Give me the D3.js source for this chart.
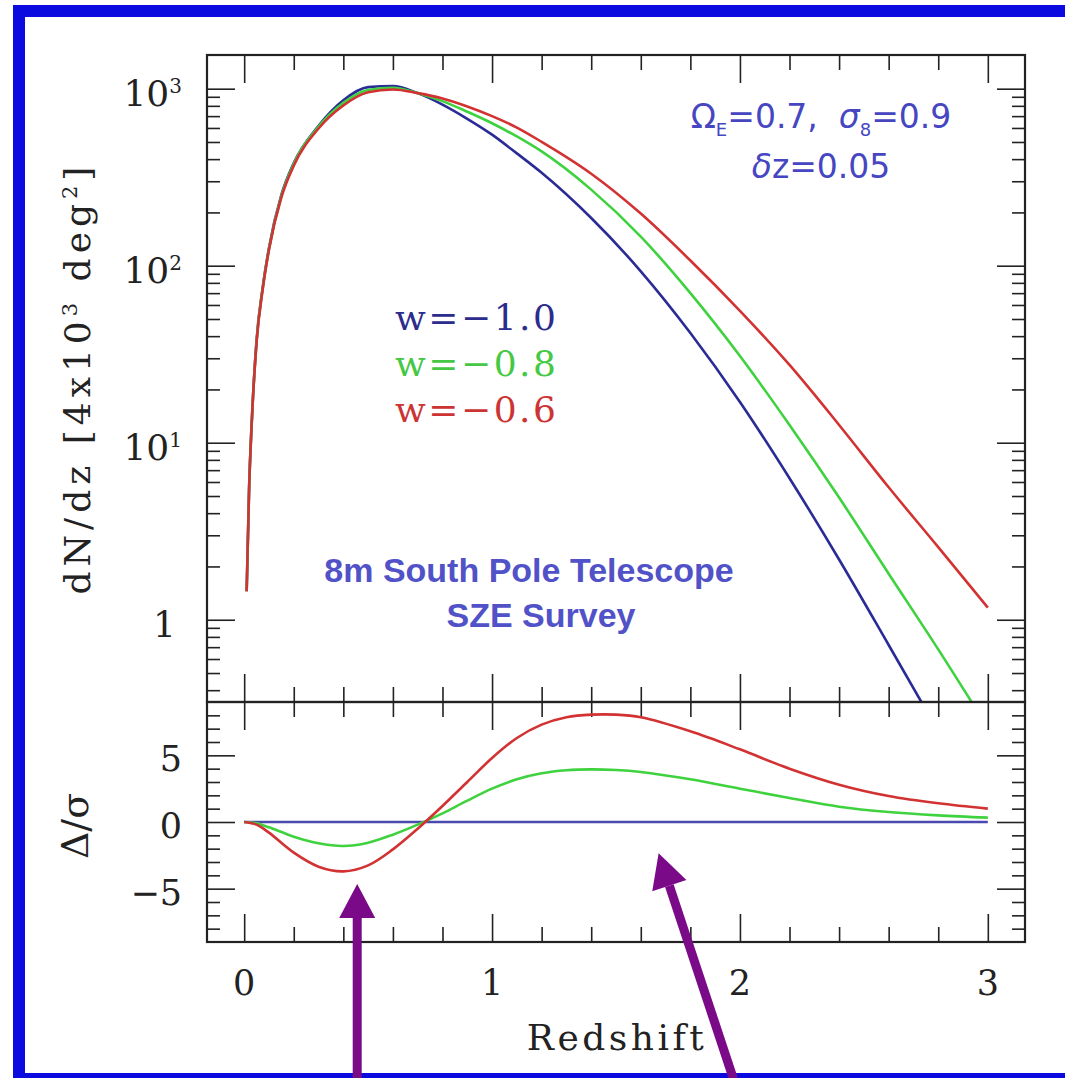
<!DOCTYPE html>
<html>
<head>
<meta charset="utf-8">
<title>dN/dz vs Redshift</title>
<script src="https://d3js.org/d3.v7.min.js"></script>
<style>
  body { margin: 0; background: #fff; }
  text { font-family: "DejaVu Serif", serif; fill: #222; white-space: pre; }
  .tick line { stroke: #222; stroke-width: 1.6; }
  .frame { fill: none; stroke: #222; stroke-width: 2.2; }
  .curve { fill: none; stroke-width: 2.6; }
</style>
</head>
<body>
<svg width="1065" height="1078"></svg>
<script>
// ---- data ----
var seriesNames = ['w=\u22121.0', 'w=\u22120.8', 'w=\u22120.6'];
var seriesColors = ['#2b2b96', '#3fd23f', '#d23232'];
var legendColors = ['#2c2c8c', '#45c845', '#cc3434'];

// top panel: dN/dz per redshift
var redshift = [0.01, 0.02, 0.03, 0.05, 0.075, 0.1, 0.15, 0.2, 0.3, 0.4, 0.5, 0.6, 0.7,
                0.8, 0.9, 1.0, 1.1, 1.2, 1.4, 1.6, 1.8, 2.0, 2.2, 2.4, 2.6, 2.8, 3.0];
var dndzW10 = [1.45, 5.6, 12.6, 38, 76, 126, 251, 380, 617, 860, 1020, 1035, 944,
               813, 676, 550, 431, 335, 186, 93, 41.7, 17.0, 6.3, 2.19, 0.72, 0.234, 0.076];
var dndzW08 = [1.45, 5.6, 12.6, 37.6, 75, 124, 248, 376, 610, 832, 984, 1012, 944,
               851, 741, 638, 537, 442, 269, 146, 70, 30.9, 12.6, 4.9, 1.82, 0.68, 0.245];
var dndzW06 = [1.45, 5.6, 12.6, 37, 74, 123, 243, 367, 596, 804, 955, 989, 944,
               881, 794, 700, 603, 501, 331, 197, 107, 55.6, 27.5, 12.6, 5.6, 2.57, 1.17];

// bottom panel: difference in units of sigma
var zDelta = [0, 0.05, 0.1, 0.2, 0.3, 0.4, 0.5, 0.6, 0.7, 0.8, 0.9, 1.0, 1.1, 1.2, 1.3,
              1.4, 1.5, 1.6, 1.8, 2.0, 2.2, 2.4, 2.6, 2.8, 3.0];
var deltaW10 = [0, 0, 0, 0, 0, 0, 0, 0, 0, 0, 0, 0, 0, 0, 0, 0, 0, 0, 0, 0, 0, 0, 0, 0, 0];
var deltaW08 = [0, -0.1, -0.4, -1.1, -1.6, -1.8, -1.55, -0.95, -0.2, 0.65, 1.6, 2.5, 3.2,
                3.65, 3.88, 3.95, 3.9, 3.75, 3.2, 2.5, 1.8, 1.15, 0.75, 0.5, 0.33];
var deltaW06 = [0, -0.2, -0.8, -2.3, -3.35, -3.7, -3.25, -2.05, -0.5, 1.2, 3.0, 4.8, 6.3,
                7.3, 7.85, 8.05, 8.05, 7.85, 6.8, 5.45, 4.0, 2.8, 1.95, 1.4, 1.0];

// tick values
var xMajor = [0, 1, 2, 3];
var xLabels = ['0', '1', '2', '3'];
var yTopMajor = [1000, 100, 10, 1];
var yTopExp = ['3', '2', '1', ''];
var yBotMajor = [5, 0, -5];
var yBotLabels = ['5', '0', '\u22125'];

// arrows below the chart (tip z, tip delta, tail z, tail delta)
var arrowTipZ = [0.456, 1.672];
var arrowTipD = [-4.65, -2.35];
var arrowTailZ = [0.456, 1.976];
var arrowTailD = [-19.4, -19.4];

// ---- layout ----
var svg = d3.select('svg');
var pLeft = 207, pRight = 1025, pTop = 55, pMid = 702, pBottom = 942;

var x = d3.scaleLinear().domain([-0.15, 3.15]).range([pLeft, pRight]);
var yTop = d3.scaleLog().domain([0.343, 1550]).range([pMid, pTop]);
var yBot = d3.scaleLinear().domain([-9, 9]).range([pBottom, pMid]);

// outer blue border
svg.append('rect')
  .attr('x', 19).attr('y', 11)
  .attr('width', 1053).attr('height', 1068)
  .attr('fill', 'none')
  .attr('stroke', '#0b0be0')
  .attr('stroke-width', 12);

var defs = svg.append('defs');
defs.append('clipPath').attr('id', 'clipTop')
  .append('rect').attr('x', pLeft).attr('y', pTop)
  .attr('width', pRight - pLeft).attr('height', pMid - pTop);
defs.append('clipPath').attr('id', 'clipBot')
  .append('rect').attr('x', pLeft).attr('y', pMid)
  .attr('width', pRight - pLeft).attr('height', pBottom - pMid);

// ---- ticks ----
var xMinor = d3.range(0, 3.01, 0.2).filter(function(v) {
  return Math.abs(v - Math.round(v)) > 1e-6;
});
var yTopMinor = yTop.ticks().filter(function(v) {
  var l = Math.log10(v);
  return Math.abs(l - Math.round(l)) > 1e-6;
});
var yBotMinor = d3.range(-8, 9).filter(function(v) { return v % 5 !== 0; });

function tickAxis(axis, vals, size, tx, ty) {
  var g = svg.append('g')
    .attr('transform', 'translate(' + tx + ',' + ty + ')')
    .call(axis.tickValues(vals).tickSize(-size).tickFormat(''));
  g.select('.domain').remove();
}

[28, 15].forEach(function(size, i) {
  var vals = i === 0 ? xMajor : xMinor;
  tickAxis(d3.axisTop(x), vals, size, 0, pTop);
  tickAxis(d3.axisBottom(x), vals, size, 0, pMid);
  tickAxis(d3.axisTop(x), vals, size, 0, pMid);
  tickAxis(d3.axisBottom(x), vals, size, 0, pBottom);
});
tickAxis(d3.axisLeft(yTop), yTopMajor, 28, pLeft, 0);
tickAxis(d3.axisRight(yTop), yTopMajor, 28, pRight, 0);
tickAxis(d3.axisLeft(yTop), yTopMinor, 13, pLeft, 0);
tickAxis(d3.axisRight(yTop), yTopMinor, 13, pRight, 0);
tickAxis(d3.axisLeft(yBot), yBotMajor, 28, pLeft, 0);
tickAxis(d3.axisRight(yBot), yBotMajor, 28, pRight, 0);
tickAxis(d3.axisLeft(yBot), yBotMinor, 13, pLeft, 0);
tickAxis(d3.axisRight(yBot), yBotMinor, 13, pRight, 0);

// ---- curves ----
var topSeries = [dndzW10, dndzW08, dndzW06];
var botSeries = [deltaW10, deltaW08, deltaW06];

var lineTop = d3.line()
  .x(function(d) { return x(d[0]); })
  .y(function(d) { return yTop(d[1]); })
  .curve(d3.curveMonotoneX);
var lineBot = d3.line()
  .x(function(d) { return x(d[0]); })
  .y(function(d) { return yBot(d[1]); })
  .curve(d3.curveCatmullRom.alpha(0.5));

svg.append('g').attr('clip-path', 'url(#clipTop)')
  .selectAll('path').data(topSeries).enter().append('path')
  .attr('class', 'curve')
  .attr('stroke', function(d, i) { return seriesColors[i]; })
  .attr('d', function(s) { return lineTop(d3.zip(redshift, s)); });

svg.append('g').attr('clip-path', 'url(#clipBot)')
  .selectAll('path').data(botSeries).enter().append('path')
  .attr('class', 'curve')
  .attr('stroke', function(d, i) { return i === 0 ? '#4a4aae' : seriesColors[i]; })
  .attr('stroke-width', function(d, i) { return i === 0 ? 3 : 2.6; })
  .attr('d', function(s) { return lineBot(d3.zip(zDelta, s)); });

// ---- frames ----
svg.append('rect').attr('class', 'frame')
  .attr('x', pLeft).attr('y', pTop).attr('width', pRight - pLeft).attr('height', pMid - pTop);
svg.append('rect').attr('class', 'frame')
  .attr('x', pLeft).attr('y', pMid).attr('width', pRight - pLeft).attr('height', pBottom - pMid);

// ---- tick labels ----
svg.selectAll('.xlab').data(xMajor).enter().append('text')
  .attr('class', 'xlab')
  .attr('x', function(d) { return x(d); })
  .attr('y', 995)
  .attr('text-anchor', 'middle')
  .style('font-size', '35px')
  .text(function(d, i) { return xLabels[i]; });

var ytl = svg.selectAll('.ytlab').data(yTopMajor).enter().append('text')
  .attr('class', 'ytlab')
  .attr('x', function(d, i) { return yTopExp[i] ? 182 : 176; })
  .attr('y', function(d) { return yTop(d) + 17; })
  .attr('text-anchor', 'end')
  .style('font-size', '36px');
ytl.append('tspan').text(function(d, i) { return yTopExp[i] ? '10' : '1'; });
ytl.append('tspan')
  .attr('dy', -13)
  .style('font-size', '20px')
  .text(function(d, i) { return yTopExp[i]; });

svg.selectAll('.yblab').data(yBotMajor).enter().append('text')
  .attr('class', 'yblab')
  .attr('x', 182)
  .attr('y', function(d) { return yBot(d) + 16; })
  .attr('text-anchor', 'end')
  .style('font-size', '35px')
  .text(function(d, i) { return yBotLabels[i]; });

// ---- axis titles ----
svg.append('text')
  .attr('x', 617).attr('y', 1050)
  .attr('text-anchor', 'middle')
  .style('font-size', '36px')
  .style('letter-spacing', '3.5px')
  .text('Redshift');

var yt = svg.append('text')
  .attr('transform', 'translate(90,378) rotate(-90)')
  .attr('text-anchor', 'middle')
  .style('font-size', '36px')
  .style('letter-spacing', '5px');
yt.append('tspan').text('dN/dz [4x10');
yt.append('tspan').attr('dy', -13).style('font-size', '21px').text('3');
yt.append('tspan').attr('dy', 13).text(' deg');
yt.append('tspan').attr('dy', -13).style('font-size', '21px').text('2');
yt.append('tspan').attr('dy', 13).text(']');

svg.append('text')
  .attr('transform', 'translate(88,826) rotate(-90)')
  .attr('text-anchor', 'middle')
  .style('font-size', '38px')
  .text('\u0394/\u03c3');

// ---- legend ----
svg.selectAll('.leg').data(seriesNames).enter().append('text')
  .attr('class', 'leg')
  .attr('x', 395)
  .attr('y', function(d, i) { return 330 + i * 46; })
  .style('font-size', '36px')
  .style('letter-spacing', '2.5px')
  .style('fill', function(d, i) { return legendColors[i]; })
  .text(function(d) { return d; });

// ---- annotations ----
var ann = svg.append('text')
  .attr('x', 821).attr('y', 128)
  .attr('text-anchor', 'middle')
  .style('font-family', '"DejaVu Sans", sans-serif')
  .style('font-size', '33px')
  .style('fill', '#4646c2');
ann.append('tspan').text('\u03a9');
ann.append('tspan').attr('dy', 8).style('font-size', '18px').text('E');
ann.append('tspan').attr('dy', -8).text('=0.7,  ');
ann.append('tspan').style('font-style', 'italic').text('\u03c3');
ann.append('tspan').attr('dy', 8).style('font-size', '18px').text('8');
ann.append('tspan').attr('dy', -8).text('=0.9');

var ann2 = svg.append('text')
  .attr('x', 821).attr('y', 178)
  .attr('text-anchor', 'middle')
  .style('font-family', '"DejaVu Sans", sans-serif')
  .style('font-size', '33px')
  .style('fill', '#4646c2');
ann2.append('tspan').style('font-style', 'italic').text('\u03b4');
ann2.append('tspan').text('z=0.05');

svg.append('text')
  .attr('x', 529).attr('y', 582)
  .attr('text-anchor', 'middle')
  .style('font-family', '"Liberation Sans", Arial, sans-serif')
  .style('font-weight', 'bold')
  .style('font-size', '34px')
  .style('fill', '#5252c8')
  .text('8m South Pole Telescope');
svg.append('text')
  .attr('x', 541).attr('y', 627)
  .attr('text-anchor', 'middle')
  .style('font-family', '"Liberation Sans", Arial, sans-serif')
  .style('font-weight', 'bold')
  .style('font-size', '34px')
  .style('fill', '#5252c8')
  .text('SZE Survey');

// ---- arrows ----
var arrowColor = '#7a0a88';
arrowTipZ.forEach(function(tz, i) {
  var x1 = x(tz), y1 = yBot(arrowTipD[i]);
  var x2 = x(arrowTailZ[i]), y2 = yBot(arrowTailD[i]);
  var dx = x2 - x1, dy = y2 - y1, len = Math.sqrt(dx * dx + dy * dy);
  var ux = dx / len, uy = dy / len;
  var hl = 34, hw = 18;
  var bx = x1 + ux * hl, by = y1 + uy * hl;
  svg.append('line')
    .attr('x1', bx).attr('y1', by).attr('x2', x2).attr('y2', y2)
    .attr('stroke', arrowColor).attr('stroke-width', 9);
  svg.append('polygon')
    .attr('points', [[x1, y1], [bx - uy * hw, by + ux * hw], [bx + uy * hw, by - ux * hw]].join(' '))
    .attr('fill', arrowColor);
});
</script>
</body>
</html>
